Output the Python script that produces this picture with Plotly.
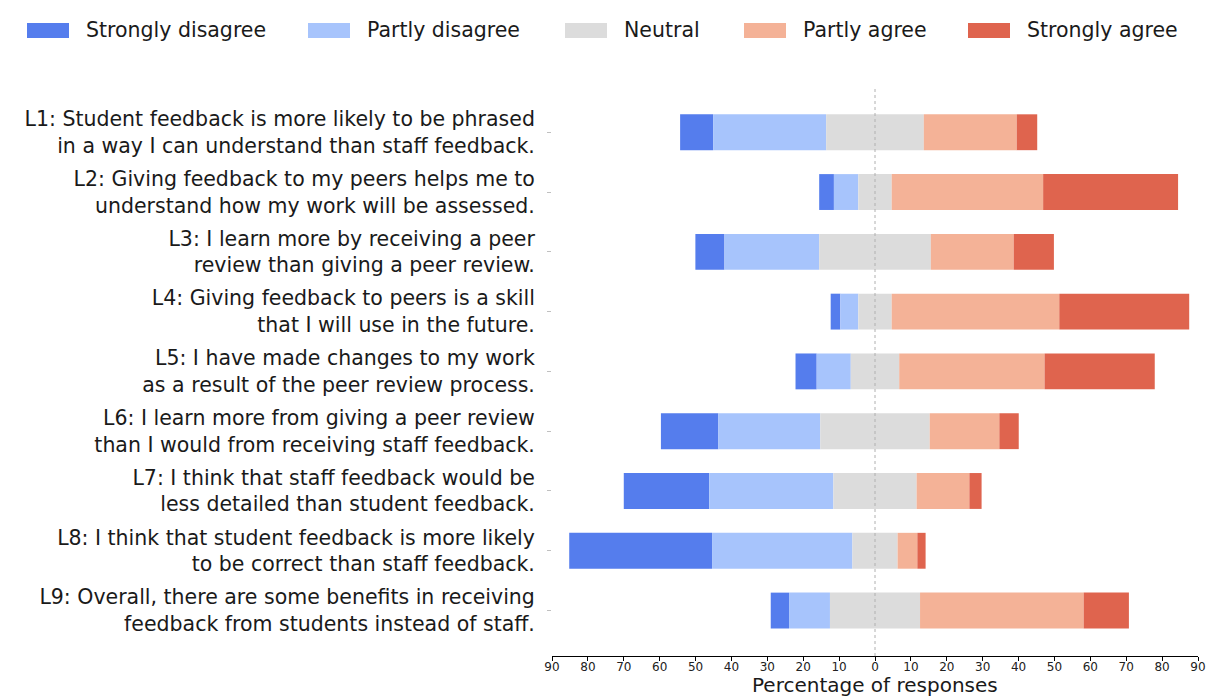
import plotly.graph_objects as go

labels = [
    "L1: Student feedback is more likely to be phrased<br>in a way I can understand than staff feedback.",
    "L2: Giving feedback to my peers helps me to<br>understand how my work will be assessed.",
    "L3: I learn more by receiving a peer<br>review than giving a peer review.",
    "L4: Giving feedback to peers is a skill<br>that I will use in the future.",
    "L5: I have made changes to my work<br>as a result of the peer review process.",
    "L6: I learn more from giving a peer review<br>than I would from receiving staff feedback.",
    "L7: I think that staff feedback would be<br>less detailed than student feedback.",
    "L8: I think that student feedback is more likely<br>to be correct than staff feedback.",
    "L9: Overall, there are some benefits in receiving<br>feedback from students instead of staff.",
]

strongly_disagree = [9.2, 4.1, 8.1, 2.7, 5.9, 16.0, 23.8, 39.8, 5.1]
partly_disagree = [31.5, 6.8, 26.4, 5.0, 9.5, 28.4, 34.6, 39.1, 11.4]
neutral = [27.2, 9.3, 31.1, 9.3, 13.5, 30.5, 23.2, 12.6, 25.1]
partly_agree = [25.9, 42.2, 23.1, 46.7, 40.5, 19.4, 14.7, 5.5, 45.6]
strongly_agree = [5.7, 37.6, 11.2, 36.2, 30.7, 5.4, 3.4, 2.3, 12.6]

series_names = ["Strongly disagree", "Partly disagree", "Neutral", "Partly agree", "Strongly agree"]
colors = ["#557ded", "#a7c4fc", "#dcdcdc", "#f4b297", "#df644e"]

tick_vals = list(range(-90, 91, 10))
tick_text = [str(abs(v)) for v in tick_vals]

# bases for the diverging layout (neutral centred on zero)
half_n = [n / 2 for n in neutral]
base_sd = [-(h + p + s) for h, p, s in zip(half_n, partly_disagree, strongly_disagree)]
base_pd = [-(h + p) for h, p in zip(half_n, partly_disagree)]
base_n = [-h for h in half_n]
base_pa = [h for h in half_n]
base_sa = [h + a for h, a in zip(half_n, partly_agree)]

fig = go.Figure()
for name, vals, base, col in zip(
    series_names,
    [strongly_disagree, partly_disagree, neutral, partly_agree, strongly_agree],
    [base_sd, base_pd, base_n, base_pa, base_sa],
    colors,
):
    fig.add_trace(go.Bar(
        y=labels, x=vals, base=base, orientation="h", name=name,
        marker=dict(color=col, line=dict(width=0)), width=0.6,
        showlegend=False,
    ))

fig.add_vline(x=0, line=dict(color="#b0b0b0", width=1, dash="dot"), layer="above")

W, H = 1209, 698
L, R, T, B = 552, 1198, 88, 656

def px_x(px):
    return (px - L) / (R - L)

def px_y(py):
    return (B - py) / (B - T)

FS = 20.5

# custom legend (wide swatches like the original)
leg_sw_x = [27, 308, 565, 744, 968]
for name, col, sx in zip(series_names, colors, leg_sw_x):
    fig.add_shape(type="rect", xref="paper", yref="paper",
                  x0=px_x(sx), x1=px_x(sx + 42), y0=px_y(38), y1=px_y(23),
                  fillcolor=col, line=dict(width=0))
    fig.add_annotation(xref="paper", yref="paper", x=px_x(sx + 57), y=px_y(30.5),
                       text=name, showarrow=False, xanchor="left", yanchor="middle",
                       font=dict(size=FS, color="#1a1a1a"))

# x-axis title
fig.add_annotation(xref="paper", yref="paper", x=0.5, y=px_y(698), yanchor="bottom",
                   xanchor="center", text="Percentage of responses", showarrow=False,
                   font=dict(size=20, color="#1a1a1a"), borderpad=0)

fig.update_layout(
    width=W, height=H,
    margin=dict(l=L, r=W - R, t=T, b=H - B, autoexpand=False),
    barmode="overlay",
    plot_bgcolor="white", paper_bgcolor="white",
    font=dict(family="DejaVu Sans", color="#1a1a1a"),
    xaxis=dict(
        range=[-90, 90], tickvals=tick_vals, ticktext=tick_text, automargin=False,
        showgrid=False, zeroline=False, showline=True, linecolor="black", linewidth=1,
        ticks="outside", ticklen=4, tickcolor="black", ticklabelstandoff=-4,
        tickfont=dict(size=12, color="#222"),
    ),
    yaxis=dict(
        type="category", categoryorder="array", categoryarray=labels, automargin=False,
        range=[8.76, -0.74], showgrid=False, zeroline=False, showline=False,
        ticks="outside", ticklen=4, tickcolor="#c0c0c0", ticklabelstandoff=8,
        tickfont=dict(size=FS, color="#1a1a1a"),
    ),
)

fig.write_html(
    "out.html",
    config={"displayModeBar": False},
    post_script="document.body.style.margin='0';document.body.style.overflow='hidden';",
)
